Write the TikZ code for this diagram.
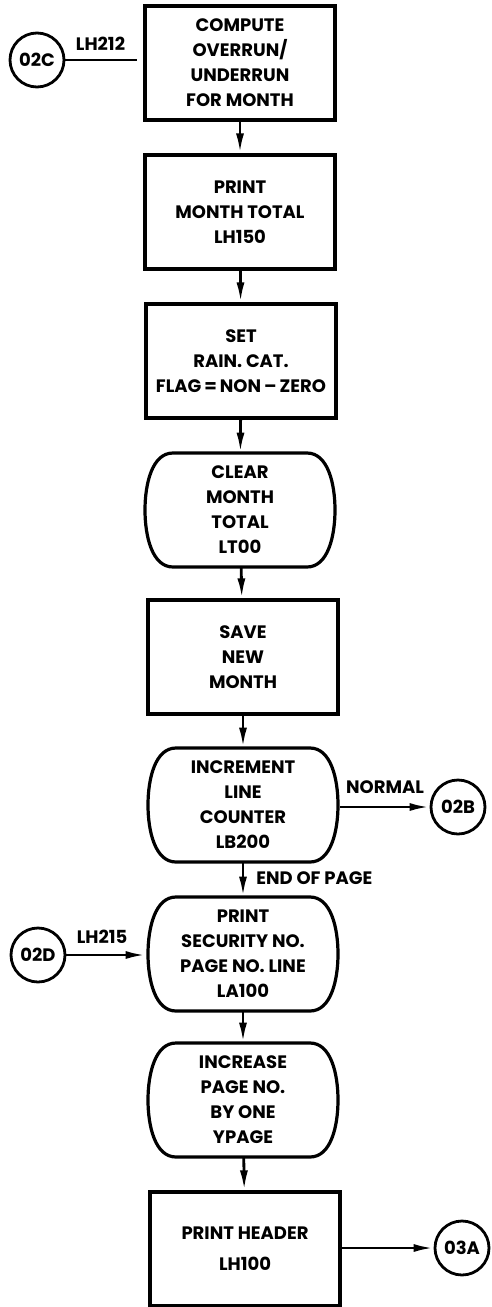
\documentclass[tikz,border=0pt]{standalone}
\usepackage{fontspec}
\setmainfont{Poppins}
\usetikzlibrary{arrows.meta}

\tikzset{
	procbox/.style={draw, line width=1.6pt, minimum width=95pt, minimum height=57pt,
		inner sep=0pt, align=center},
	termbox/.style={minimum width=95pt, minimum height=57pt, inner sep=0pt, align=center},
	offpage/.style={draw, circle, line width=1.4pt, minimum size=27pt, inner sep=0pt},
	flow/.style={line width=1.4pt, -{Latex[length=10pt,width=4pt]}},
	tag/.style={inner sep=1pt}
}

% outline of a terminal block: flat top and bottom, bulging sides
\newcommand\termline[1]{%
	\draw[line width=1.6pt, shift={(#1.center)}, x=1pt, y=1pt]
	(-33.5,28.5) -- (33.5,28.5)
	.. controls (44,28.5) and (47.5,13) .. (47.5,0)
	.. controls (47.5,-13) and (44,-28.5) .. (33.5,-28.5)
	-- (-33.5,-28.5)
	.. controls (-44,-28.5) and (-47.5,-13) .. (-47.5,0)
	.. controls (-47.5,13) and (-44,28.5) .. (-33.5,28.5) -- cycle;}

\begin{document}
\begin{tikzpicture}[x=0.5pt, y=-0.5pt,
	font=\fontsize{9}{12.5}\selectfont\bfseries]
	\useasboundingbox (0,0) rectangle (492,1307);
	% main column
	\node[procbox] (compute) at (240,63) {COMPUTE\\OVERRUN/\\UNDERRUN\\FOR MONTH};
	\node[procbox] (monthtot) at (240,212) {PRINT\\MONTH TOTAL\\LH150};
	\node[procbox] (setflag) at (241,361) {SET\\RAIN. CAT.\\FLAG\,=\,NON\,--\,ZERO};
	\node[termbox] (clear) at (240,510) {CLEAR\\MONTH\\TOTAL\\LT00};
	\node[procbox] (save) at (243,657) {SAVE\\NEW\\MONTH};
	\node[termbox] (incline) at (243,805) {INCREMENT\\LINE\\COUNTER\\LB200};
	\node[termbox] (printsec) at (243,954) {PRINT\\SECURITY NO.\\PAGE NO. LINE\\LA100};
	\node[termbox] (incpage) at (243,1100) {INCREASE\\PAGE NO.\\BY ONE\\YPAGE};
	\node[procbox] (header) at (245,1249) {PRINT HEADER\\[3pt]LH100};
	\termline{clear}
	\termline{incline}
	\termline{printsec}
	\termline{incpage}
	% off-page connectors
	\node[offpage] (o2c) at (37,60) {02C};
	\node[offpage] (o2b) at (458,807) {02B};
	\node[offpage] (o2d) at (38,955) {02D};
	\node[offpage] (o3a) at (462,1248) {03A};
	% flow lines
	\draw[flow] (compute) -- (monthtot);
	\draw[flow] (monthtot) -- (setflag);
	\draw[flow] (setflag) -- (clear);
	\draw[flow] (clear) -- (save);
	\draw[flow] (save) -- (incline);
	\draw[flow] (incline) -- node[tag, right=5pt, pos=0.45]{END OF PAGE} (printsec);
	\draw[flow] (printsec) -- (incpage);
	\draw[flow] (incpage) -- (header);
	\draw[line width=1.4pt, shorten >=3pt] (o2c) -- node[tag, above=3pt, pos=0.45]{LH212} (compute.west |- o2c);
	\draw[flow] (o2d) -- node[tag, above=4pt, pos=0.45]{LH215} ([xshift=-1pt]printsec.west |- o2d);
	\draw[flow] ([xshift=1pt]incline.east |- o2b) -- node[tag, above=5pt, pos=0.5]{NORMAL} (o2b);
	\draw[flow] (header.east |- o3a) -- (o3a);
\end{tikzpicture}
\end{document}
